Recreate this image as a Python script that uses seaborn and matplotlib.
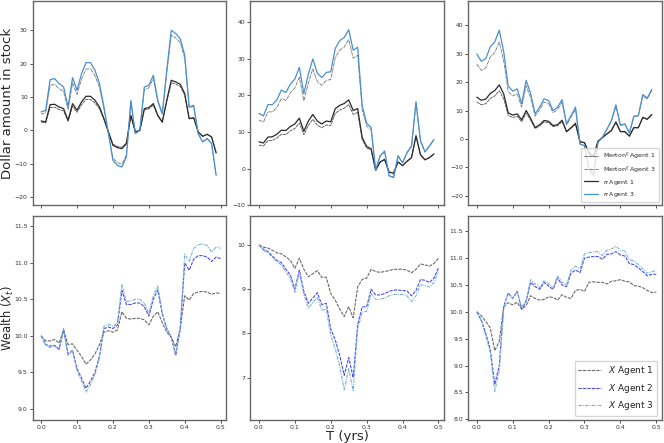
import numpy as np
import pandas as pd
import matplotlib
matplotlib.use("Agg")
import matplotlib.pyplot as plt
import seaborn as sns

sns.set_style("ticks")
plt.rcParams['font.family'] = ['DejaVu Sans']

# time grids
t_top = [i * 0.0125 for i in range(40)]
t_bot = [i * 0.0125 for i in range(41)]

# ---------- top row: dollar amount in stock ----------
pi3_a = [5.5, 6.0, 15.2, 15.5, 14.0, 13.0, 7.0, 15.8, 12.0, 17.0, 20.3, 20.3, 18.0, 14.0, 7.0, -1.0,
         -9.0, -10.5, -11.0, -8.0, 9.0, -1.0, 0.0, 13.0, 13.5, 16.5, 9.0, 5.0, 18.0, 30.0, 29.0, 27.5,
         22.5, 7.0, 7.5, -1.0, -3.5, -2.5, -4.0, -13.5]
mer3_a = [4.84, 5.30, 13.45, 13.76, 12.46, 11.60, 6.27, 14.18, 10.8, 15.34, 18.37, 18.42, 16.38, 12.78,
          6.41, -0.92, -8.28, -9.69, -10.18, -7.42, 8.37, -0.93, 0.0, 12.19, 12.69, 15.55, 8.51, 4.74,
          17.1, 28.58, 27.7, 26.33, 21.6, 6.74, 7.24, -0.97, -3.40, -2.43, -3.9, -13.2]
pi1_a = [2.8, 2.5, 7.7, 7.8, 7.0, 6.5, 3.0, 8.0, 6.0, 8.5, 10.2, 10.2, 9.0, 7.0, 3.5, -0.5, -4.5, -5.2,
         -5.5, -4.0, 4.5, -0.5, 0.0, 6.5, 6.8, 8.0, 4.5, 2.5, 9.0, 15.0, 14.5, 13.8, 11.0, 3.5, 3.8,
         -0.5, -1.8, -1.2, -2.0, -6.8]
mer1_a = [2.46, 2.21, 6.81, 6.92, 6.23, 5.80, 2.69, 7.18, 5.4, 7.67, 9.23, 9.26, 8.19, 6.39, 3.20, -0.46,
          -4.14, -4.80, -5.09, -3.71, 4.19, -0.47, 0.0, 6.09, 6.39, 7.54, 4.25, 2.37, 8.55, 14.29, 13.85,
          13.21, 10.56, 3.37, 3.67, -0.48, -1.75, -1.17, -1.95, -6.65]

pi3_b = [15.1, 14.4, 17.5, 17.5, 18.8, 21.5, 20.8, 23.1, 24.5, 27.7, 20.5, 25.8, 30.0, 26.1, 24.9, 26.3,
         26.5, 32.9, 35.0, 35.9, 38.0, 32.4, 33.2, 17.2, 12.4, 11.2, -0.5, 3.5, 4.8, -2.0, -2.5, 3.5,
         1.6, 4.4, 6.2, 18.3, 7.6, 4.6, 6.2, 8.0]
mer3_b = [13.29, 12.71, 15.49, 15.53, 16.73, 19.19, 18.62, 20.73, 22.05, 25.0, 18.55, 23.41, 27.3, 23.82,
          22.78, 24.13, 24.38, 30.35, 32.38, 33.3, 35.34, 30.21, 31.04, 16.13, 11.66, 10.56, -0.47, 3.32,
          4.56, -1.91, -2.39, 3.35, 1.54, 4.24, 5.98, 17.71, 7.37, 4.47, 6.05, 7.82]
pi1_b = [7.3, 7.0, 8.6, 8.7, 9.4, 10.5, 10.4, 11.5, 12.2, 13.8, 10.2, 13.0, 14.8, 13.0, 12.2, 13.0, 12.8,
         16.4, 17.3, 17.8, 18.8, 15.9, 16.4, 8.5, 6.0, 5.4, -0.5, 1.8, 2.5, -1.0, -1.3, 1.8, 0.8, 2.0,
         3.0, 9.0, 3.8, 2.4, 3.0, 4.0]
mer1_b = [6.42, 6.18, 7.61, 7.72, 8.37, 9.37, 9.31, 10.32, 10.98, 12.45, 9.23, 11.8, 13.47, 11.86, 11.16,
          11.93, 11.78, 15.13, 16.0, 16.51, 17.48, 14.83, 15.33, 7.97, 5.64, 5.09, -0.47, 1.71, 2.38,
          -0.95, -1.24, 1.72, 0.77, 1.93, 2.90, 8.71, 3.69, 2.33, 2.93, 3.91]

pi3_c = [29.8, 27.3, 28.2, 32.4, 34.1, 38.2, 30.6, 18.6, 16.8, 17.6, 12.4, 20.6, 15.9, 8.8, 11.2, 14.1,
         13.5, 10.0, 11.2, 13.8, 5.3, 8.2, 11.2, -1.8, -2.4, -10.6, -12.9, -1.2, 0.6, 3.5, 6.5, 12.0,
         4.9, 5.3, 2.1, 8.0, 8.2, 15.6, 14.4, 17.4]
mer3_c = [26.22, 24.09, 24.96, 28.76, 30.35, 34.09, 27.39, 16.69, 15.12, 15.88, 11.22, 18.69, 14.47, 8.03,
          10.25, 12.94, 12.42, 9.23, 10.36, 12.80, 4.93, 7.65, 10.47, -1.69, -2.26, -9.99, -12.19, -1.14,
          0.57, 3.33, 6.21, 11.49, 4.70, 5.10, 2.03, 7.74, 7.95, 15.17, 14.04, 17.01]
pi1_c = [14.7, 13.6, 14.0, 16.0, 17.0, 19.0, 15.8, 9.2, 8.4, 8.8, 6.7, 10.0, 7.2, 4.0, 5.0, 6.5, 6.2, 4.7,
         5.0, 6.6, 2.6, 4.0, 5.5, -1.0, -1.3, -5.0, -6.3, -0.8, 0.5, 1.8, 3.0, 6.0, 2.6, 2.6, 1.0, 4.0,
         4.0, 7.6, 7.0, 8.6]
mer1_c = [12.94, 12.0, 12.39, 14.2, 15.13, 16.96, 14.14, 8.26, 7.56, 7.94, 6.06, 9.08, 6.55, 3.65, 4.58,
          5.96, 5.70, 4.34, 4.63, 6.12, 2.42, 3.73, 5.14, -0.94, -1.22, -4.71, -5.95, -0.76, 0.48, 1.71,
          2.87, 5.75, 2.50, 2.50, 0.97, 3.87, 3.88, 7.39, 6.83, 8.41]

# ---------- bottom row: wealth ----------
x1_a = [10.0, 9.93, 9.93, 9.95, 9.90, 10.08, 9.88, 9.89, 9.80, 9.72, 9.61, 9.67, 9.75, 9.88, 10.05, 10.07,
        10.05, 10.08, 10.33, 10.24, 10.23, 10.24, 10.24, 10.22, 10.15, 10.27, 10.33, 10.18, 10.05, 9.98,
        9.85, 10.10, 10.55, 10.49, 10.58, 10.60, 10.61, 10.60, 10.57, 10.59, 10.58]
x2_a = [10.0, 9.88, 9.86, 9.87, 9.82, 10.08, 9.75, 9.80, 9.55, 9.42, 9.28, 9.38, 9.50, 9.72, 10.10, 10.12,
        10.10, 10.15, 10.62, 10.43, 10.43, 10.45, 10.45, 10.40, 10.27, 10.50, 10.63, 10.30, 10.10, 9.98,
        9.73, 10.10, 11.00, 10.90, 11.05, 11.10, 11.10, 11.08, 11.02, 11.08, 11.06]
x3_a = [10.0, 9.87, 9.84, 9.86, 9.80, 10.10, 9.73, 9.80, 9.52, 9.38, 9.23, 9.33, 9.47, 9.70, 10.13, 10.16,
        10.13, 10.18, 10.70, 10.47, 10.48, 10.50, 10.50, 10.45, 10.30, 10.55, 10.68, 10.32, 10.10, 9.98,
        9.75, 10.10, 11.12, 11.02, 11.20, 11.25, 11.26, 11.24, 11.15, 11.22, 11.20]

x1_b = [10.0, 9.95, 9.93, 9.88, 9.82, 9.80, 9.73, 9.65, 9.47, 9.70, 9.45, 9.28, 9.35, 9.42, 9.27, 9.27,
        8.90, 8.75, 8.55, 8.38, 8.60, 8.35, 9.05, 9.22, 9.25, 9.45, 9.40, 9.38, 9.40, 9.42, 9.45, 9.45,
        9.45, 9.43, 9.37, 9.45, 9.57, 9.55, 9.52, 9.58, 9.70]
x2_b = [10.0, 9.90, 9.85, 9.75, 9.65, 9.60, 9.45, 9.32, 9.00, 9.43, 8.95, 8.68, 8.80, 8.92, 8.65, 8.68,
        8.10, 7.85, 7.50, 7.05, 7.45, 7.00, 8.20, 8.60, 8.60, 9.00, 8.87, 8.87, 8.90, 8.95, 8.98, 8.98,
        8.97, 8.96, 8.85, 8.97, 9.22, 9.20, 9.15, 9.25, 9.48]
x3_b = [10.0, 9.88, 9.82, 9.72, 9.62, 9.55, 9.38, 9.25, 8.93, 9.38, 8.88, 8.57, 8.70, 8.82, 8.52, 8.55,
        7.95, 7.65, 7.25, 6.72, 7.20, 6.70, 8.10, 8.48, 8.50, 8.90, 8.77, 8.77, 8.80, 8.85, 8.88, 8.88,
        8.88, 8.85, 8.72, 8.85, 9.10, 9.08, 9.05, 9.15, 9.40]

x1_c = [10.0, 9.93, 9.82, 9.70, 9.28, 9.45, 10.10, 10.17, 10.13, 10.18, 10.05, 10.12, 10.30, 10.25, 10.22,
        10.23, 10.28, 10.27, 10.22, 10.32, 10.27, 10.25, 10.40, 10.42, 10.38, 10.55, 10.56, 10.55, 10.55,
        10.52, 10.57, 10.58, 10.60, 10.57, 10.56, 10.49, 10.48, 10.45, 10.40, 10.36, 10.37]
x2_c = [10.0, 9.85, 9.60, 9.30, 8.65, 9.00, 10.10, 10.35, 10.25, 10.38, 10.05, 10.20, 10.55, 10.47, 10.42,
        10.55, 10.48, 10.42, 10.63, 10.50, 10.47, 10.72, 10.78, 10.73, 11.00, 11.02, 11.03, 11.03, 10.98,
        11.07, 11.08, 11.12, 11.06, 11.04, 10.90, 10.88, 10.82, 10.75, 10.67, 10.70, 10.70]
x3_c = [10.0, 9.83, 9.55, 9.25, 8.52, 8.90, 10.08, 10.35, 10.26, 10.38, 10.08, 10.22, 10.60, 10.52, 10.45,
        10.58, 10.52, 10.45, 10.67, 10.55, 10.50, 10.78, 10.85, 10.80, 11.08, 11.10, 11.12, 11.12, 11.05,
        11.15, 11.17, 11.22, 11.15, 11.13, 10.97, 10.95, 10.88, 10.80, 10.72, 10.75, 10.77]

top_sets = [(pi3_a, mer3_a, pi1_a, mer1_a), (pi3_b, mer3_b, pi1_b, mer1_b), (pi3_c, mer3_c, pi1_c, mer1_c)]
bot_sets = [(x1_a, x2_a, x3_a), (x1_b, x2_b, x3_b), (x1_c, x2_c, x3_c)]

top_ylims = [(-22.4, 38.8), (-10.0, 45.9), (-23.2, 48.5)]
bot_ylims = [(8.84, 11.64), (6.03, 10.65), (7.98, 11.78)]
top_yticks = [[-20, -10, 0, 10, 20, 30], [-10, 0, 10, 20, 30, 40], [-20, -10, 0, 10, 20, 30, 40]]
bot_yticks = [[9.0, 9.5, 10.0, 10.5, 11.0, 11.5], [7, 8, 9, 10], [8.0, 8.5, 9.0, 9.5, 10.0, 10.5, 11.0, 11.5]]
xticks = [0.0, 0.1, 0.2, 0.3, 0.4, 0.5]

fig, axes = plt.subplots(2, 3, figsize=(6.64, 4.43), dpi=100, sharex=True)
fig.subplots_adjust(left=0.049, right=0.997, bottom=0.051, top=0.998, wspace=0.124, hspace=0.055)

c_pi3 = "#4a90d0"
c_mer = "#707070"
c_pi1 = "#2a2a2a"
c_x1 = "#6a6a6a"
c_x2 = "#4b4bf0"
c_x3 = "#74b0dc"

for j in range(3):
    ax = axes[0, j]
    pi3, mer3, pi1, mer1 = top_sets[j]
    df = pd.DataFrame({"t": t_top, "pi3": pi3, "mer3": mer3, "pi1": pi1, "mer1": mer1})
    sns.lineplot(data=df, x="t", y="mer1", ax=ax, color="#505050", lw=0.6, linestyle=(0, (4, 0.8)),
                 label=r"Merton$^{\xi}$ Agent 1")
    sns.lineplot(data=df, x="t", y="mer3", ax=ax, color=c_mer, lw=0.6, linestyle=(0, (4, 0.8, 1, 0.8)),
                 label=r"Merton$^{\xi}$ Agent 3")
    sns.lineplot(data=df, x="t", y="pi1", ax=ax, color=c_pi1, lw=0.9, label=r"$\pi$ Agent 1")
    sns.lineplot(data=df, x="t", y="pi3", ax=ax, color=c_pi3, lw=0.9, label=r"$\pi$ Agent 3")
    ax.set_ylim(*top_ylims[j])
    ax.set_yticks(top_yticks[j])
    if j == 2:
        ax.legend(loc="lower right", fontsize=4.5, frameon=True, handlelength=2.2,
                  borderpad=0.5, labelspacing=0.5)
    else:
        ax.get_legend().remove()
    ax.set_xlabel("")
    ax.set_ylabel("")

for j in range(3):
    ax = axes[1, j]
    x1, x2, x3 = bot_sets[j]
    df = pd.DataFrame({"t": t_bot, "x1": x1, "x2": x2, "x3": x3})
    sns.lineplot(data=df, x="t", y="x1", ax=ax, color=c_x1, lw=0.8, linestyle=(0, (3, 1)),
                 label=r"$X$ Agent 1")
    sns.lineplot(data=df, x="t", y="x2", ax=ax, color=c_x2, lw=0.8, linestyle=(0, (3, 1)),
                 label=r"$X$ Agent 2")
    sns.lineplot(data=df, x="t", y="x3", ax=ax, color=c_x3, lw=0.8, linestyle=(0, (3, 1, 1, 1)),
                 label=r"$X$ Agent 3")
    ax.set_ylim(*bot_ylims[j])
    ax.set_yticks(bot_yticks[j])
    if j == 2:
        ax.legend(loc="lower right", fontsize=6.5, frameon=True, handlelength=2.5,
                  borderpad=0.4, labelspacing=0.5)
    else:
        ax.get_legend().remove()
    ax.set_xlabel("")
    ax.set_ylabel("")

for ax in axes.flat:
    ax.set_xlim(-0.024, 0.516)
    ax.set_xticks(xticks)
    ax.tick_params(labelsize=4.4, length=2.3, width=0.6, colors="#333333", pad=1.2)
    for s in ax.spines.values():
        s.set_color("#666666")
        s.set_linewidth(1.0)

axes[1, 0].set_xticks(xticks)
axes[1, 0].set_xticklabels(["0.0", "0.1", "0.2", "0.3", "0.4", "0.5"])

axes[0, 0].set_ylabel("Dollar amount in stock", fontsize=9.5)
axes[0, 0].yaxis.set_label_coords(-0.163, 0.5)
axes[0, 0].yaxis.label.set_ha("center")
axes[0, 0].yaxis.label.set_va("top")
axes[1, 0].set_ylabel(r"Wealth ($X_t$)", fontsize=8.3)
axes[1, 0].yaxis.set_label_coords(-0.166, 0.5)
axes[1, 0].yaxis.label.set_ha("center")
axes[1, 0].yaxis.label.set_va("top")
axes[1, 1].set_xlabel("T (yrs)", fontsize=9.5)
axes[1, 1].xaxis.set_label_coords(0.5, -0.112)
axes[1, 1].xaxis.label.set_va("bottom")

fig.savefig("out.png", dpi=100)
